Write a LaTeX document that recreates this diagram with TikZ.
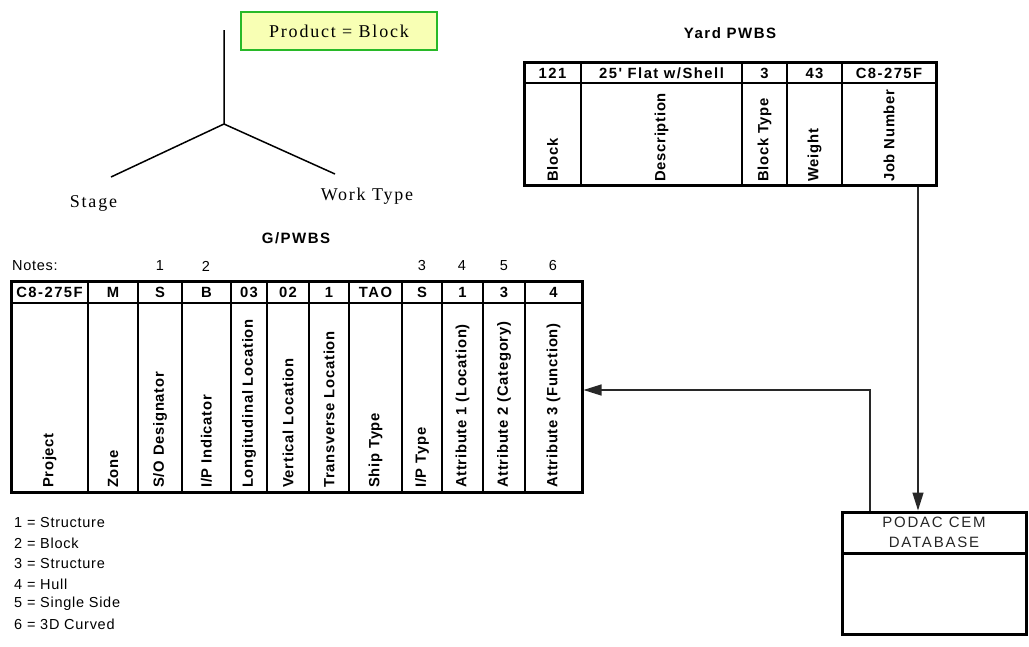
\documentclass[tikz,border=0pt]{standalone}
\usepackage{fontspec}
\setmainfont{Liberation Serif}
\newfontfamily\arialsp[LetterSpace=10,Ligatures=TeXOff]{Liberation Sans}
\newfontfamily\arialnt[LetterSpace=5,Ligatures=TeXOff]{Liberation Sans}
\newfontfamily\arialdb[LetterSpace=12,Ligatures=TeXOff]{Liberation Sans}
\newfontfamily\timessp[LetterSpace=10]{Liberation Serif}
\usetikzlibrary{arrows.meta}
\definecolor{prodfill}{RGB}{248,255,180}
\definecolor{prodline}{RGB}{40,185,40}
\definecolor{linkgray}{RGB}{40,40,40}
\tikzset{
  hdr/.style={font=\arialsp\bfseries\fontsize{14.8}{16}\selectfont, inner sep=0pt},
  vlab/.style={font=\arialnt\bfseries\fontsize{14.8}{16}\selectfont, rotate=90, anchor=west, inner sep=0pt},
  notetxt/.style={font=\arialnt\fontsize{14.5}{16}\selectfont, inner sep=0pt},
  ttl/.style={font=\arialsp\bfseries\fontsize{15}{16}\selectfont, inner sep=0pt},
  tbl/.style={draw, line width=3pt, inner sep=0pt},
  rule/.style={line width=2pt},
  treeline/.style={line width=1.5pt},
  treelab/.style={font=\timessp\fontsize{18}{20}\selectfont, inner sep=0pt},
  link/.style={draw=linkgray, line width=1.3pt, -{Triangle[length=18pt,width=11pt]}},
}
\begin{document}
\begin{tikzpicture}[x=1pt,y=-1pt]
\useasboundingbox (0,0) rectangle (1029,646);

% ---- product tree ----
\node[draw=prodline, fill=prodfill, line width=1.6pt, minimum width=196pt, minimum height=38pt,
      font=\timessp\fontsize{18}{20}\selectfont] (prod) at (339,31) {Product = Block};
\coordinate (ttop) at (224,30);
\coordinate (tmid) at (224,124);
\coordinate (tleft) at (111,177);
\coordinate (tright) at (335,174);
\draw[treeline] (ttop) -- (tmid) -- (tleft);
\draw[treeline] (tmid) -- (tright);
\node[treelab] (stage) at (93.5,203) {Stage};
\node[treelab] (wtype) at (367,196) {Work Type};

% ---- Yard PWBS table ----
\node[ttl] (yardttl) at (730,33) {Yard PWBS};
\node[tbl, minimum width=412pt, minimum height=123pt] (yard) at (730,123.5) {};
\draw[rule] (524,83) -- (936,83);
\foreach \l/\r/\h/\t in {524/581/121/Block, 581/742/{25' Flat w/Shell}/Description,
    742/787/3/{Block Type}, 787/842/43/Weight, 842/936/C8-275F/{Job Number}}{
  \node[hdr] at ({(\l+\r)/2},73) {\h};
  \node[vlab] at ({(\l+\r)/2},182) {\t};
}
\foreach \x in {581,742,787,842}{ \draw[rule] (\x,62) -- (\x,185); }

% ---- G/PWBS table ----
\node[ttl] (gttl) at (296,238) {G/PWBS};
\node[notetxt, anchor=west] (notes) at (12,266) {Notes:};
\node[tbl, minimum width=571pt, minimum height=211pt] (gt) at (296.5,386.5) {};
\draw[rule] (11,303) -- (582,303);
\foreach \l/\r/\h/\t in {11/88/C8-275F/Project, 88/138/M/Zone, 138/182/S/{S/O Designator},
    182/231/B/{I/P Indicator}, 231/267/03/{Longitudinal Location}, 267/309/02/{Vertical Location},
    309/349/1/{Transverse Location}, 349/402/TAO/{Ship Type}, 402/442/S/{I/P Type},
    442/483/1/{Attribute 1 (Location)}, 483/525/3/{Attribute 2 (Category)},
    525/582/4/{Attribute 3 (Function)}}{
  \node[hdr] at ({(\l+\r)/2},292) {\h};
  \node[vlab] at ({(\l+\r)/2},488) {\t};
}
\foreach \x in {88,138,182,231,267,309,349,402,442,483,525}{ \draw[rule] (\x,281) -- (\x,492); }
\foreach \x/\n in {160/1, 206/2, 422/3, 462/4, 504/5, 553/6}{
  \node[notetxt] at (\x,266) {\n};
}

% ---- note legend ----
\foreach \y/\s in {523/{1 = Structure}, 543/{2 = Block}, 564/{3 = Structure},
    584/{4 = Hull}, 604/{5 = Single Side}, 624/{6 = 3D Curved}}{
  \node[notetxt, anchor=west] at (14,\y) {\s};
}

% ---- database ----
\node[tbl, minimum width=184pt, minimum height=122pt] (db) at (934,573) {};
\draw[line width=3pt] (842,553) -- (1026,553);
\node[font=\arialdb\fontsize{15}{19.5}\selectfont, text=black!85, align=center, inner sep=0pt]
  (dbname) at (934,532.5) {PODAC CEM\\DATABASE};

% ---- connectors ----
\coordinate (downx) at (918,0);
\coordinate (upx) at (870,0);
\coordinate (lefty) at (0,390);
\draw[link] (yard.south -| downx) -- (db.north -| downx);
\draw[link] (db.north -| upx) |- (gt.east |- lefty);
\end{tikzpicture}
\end{document}
